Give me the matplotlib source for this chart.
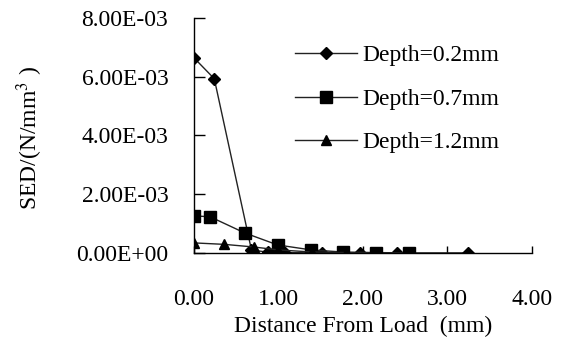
import matplotlib
matplotlib.use("Agg")
import matplotlib.pyplot as plt
from matplotlib.ticker import FuncFormatter

# --- данные ---
x_02 = [0.00, 0.24, 0.68, 0.88, 1.08, 1.52, 1.96, 2.40, 3.24]
y_02 = [6.64e-3, 5.93e-3, 0.10e-3, 0.02e-3, 0.01e-3, 0.0, 0.0, 0.0, 0.0]

x_07 = [0.00, 0.19, 0.60, 0.99, 1.39, 1.76, 2.16, 2.54]
y_07 = [1.26e-3, 1.23e-3, 0.68e-3, 0.27e-3, 0.10e-3, 0.03e-3, 0.01e-3, 0.0]

x_12 = [0.00, 0.36, 0.71, 1.00, 1.40, 1.80]
y_12 = [0.34e-3, 0.29e-3, 0.20e-3, 0.10e-3, 0.03e-3, 0.01e-3]

labels = ["Depth=0.2mm", "Depth=0.7mm", "Depth=1.2mm"]
x_ticks = [0.0, 1.0, 2.0, 3.0, 4.0]
y_ticks = [0.0, 2e-3, 4e-3, 6e-3, 8e-3]

plt.rcParams["font.family"] = ["Liberation Serif", "DejaVu Serif"]
plt.rcParams["mathtext.fontset"] = "stix"
fs = 17

fig = plt.figure(figsize=(5.64, 3.45), dpi=100)
ax = fig.add_axes([0.344, 0.267, 0.599, 0.681])

line_kw = dict(color="#222222", linewidth=1.0, markerfacecolor="black",
               markeredgecolor="black")
ax.plot(x_02, y_02, marker="D", markersize=6.2, label=labels[0], **line_kw)
ax.plot(x_07, y_07, marker="s", markersize=8, label=labels[1], **line_kw)
ax.plot(x_12, y_12, marker="^", markersize=7.5, label=labels[2], **line_kw)

ax.set_xlim(0, 4)
ax.set_ylim(0, 8e-3)
ax.set_xticks(x_ticks)
ax.set_yticks(y_ticks)
ax.xaxis.set_major_formatter(FuncFormatter(lambda v, p: "%.2f" % v))
ax.yaxis.set_major_formatter(FuncFormatter(lambda v, p: "%.2E" % v))

ax.spines["top"].set_visible(False)
ax.spines["right"].set_visible(False)
ax.spines["left"].set_linewidth(1.0)
ax.spines["bottom"].set_linewidth(1.0)
ax.tick_params(axis="y", direction="in", length=8, width=1, pad=18.5, labelsize=fs)
ax.tick_params(axis="x", direction="in", length=5, width=1, pad=26, labelsize=fs)

ax.set_xlabel("Distance From Load  (mm)", fontsize=fs, labelpad=4)
ax.set_ylabel("SED/(N/mm$^3$ )", fontsize=fs)
ax.yaxis.set_label_coords(-0.44, 0.49)

ax.legend(loc="upper left", bbox_to_anchor=(0.30, 0.885), frameon=False,
          fontsize=fs, handlelength=2.6, handletextpad=0.25,
          labelspacing=0.93, borderpad=0, borderaxespad=0)

fig.savefig("out.png", dpi=100)
